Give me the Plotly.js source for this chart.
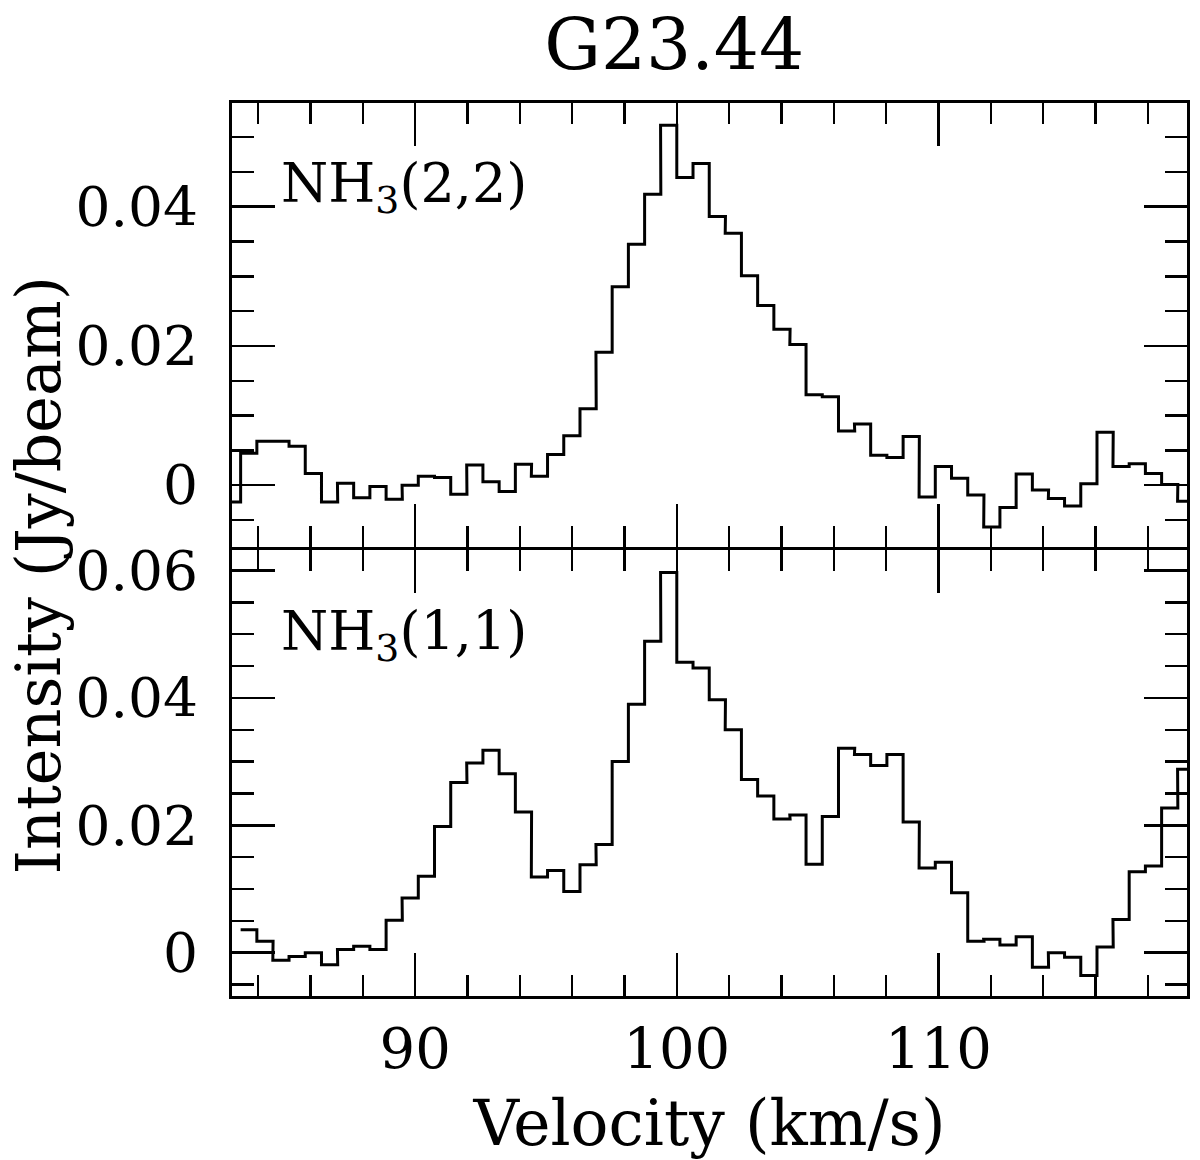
<!DOCTYPE html>
<html>
<head>
<meta charset="utf-8">
<script src="https://cdn.plot.ly/plotly-3.0.1.min.js"></script>
<style>html,body{margin:0;padding:0;background:#fff;}#chart{width:1200px;height:1160px;}</style>
</head>
<body>
<div id="chart"></div>
<script>
// Channel centre velocities (km/s)
const velocity = [83.02, 83.64, 84.26, 84.87, 85.49, 86.11, 86.73, 87.34, 87.96, 88.58,
  89.20, 89.81, 90.43, 91.05, 91.67, 92.28, 92.90, 93.52, 94.14, 94.75,
  95.37, 95.99, 96.61, 97.22, 97.84, 98.46, 99.08, 99.69, 100.31, 100.93,
  101.55, 102.16, 102.78, 103.40, 104.02, 104.63, 105.25, 105.87, 106.49, 107.10,
  107.72, 108.34, 108.96, 109.57, 110.19, 110.81, 111.43, 112.04, 112.66, 113.28,
  113.90, 114.51, 115.13, 115.75, 116.37, 116.98, 117.60, 118.22, 118.84, 119.45];

// NH3(2,2) intensity (Jy/beam)
const nh3_22 = [-0.0024, 0.0046, 0.0063, 0.0063, 0.0056, 0.0017, -0.0024, 0.0003, -0.0018, -0.0002,
  -0.0020, 0.0000, 0.0013, 0.0011, -0.0013, 0.0029, 0.0005, -0.0009, 0.0030, 0.0013,
  0.0044, 0.0071, 0.0110, 0.0191, 0.0285, 0.0346, 0.0418, 0.0517, 0.0442, 0.0462,
  0.0386, 0.0362, 0.0301, 0.0258, 0.0224, 0.0202, 0.0130, 0.0127, 0.0078, 0.0088,
  0.0043, 0.0040, 0.0070, -0.0017, 0.0027, 0.0010, -0.0014, -0.0060, -0.0032, 0.0016,
  -0.0007, -0.0019, -0.0030, 0.0002, 0.0076, 0.0027, 0.0031, 0.0017, 0.0001, -0.0023];

// NH3(1,1) intensity (Jy/beam)
const nh3_11 = [null, 0.0036, 0.0018, -0.0012, -0.0006, 0.0000, -0.0019, 0.0005, 0.0010, 0.0005,
  0.0051, 0.0086, 0.0120, 0.0198, 0.0267, 0.0298, 0.0318, 0.0281, 0.0221, 0.0119,
  0.0129, 0.0096, 0.0138, 0.0170, 0.0300, 0.0390, 0.0489, 0.0597, 0.0456, 0.0447,
  0.0397, 0.0350, 0.0272, 0.0246, 0.0210, 0.0216, 0.0139, 0.0214, 0.0321, 0.0311,
  0.0294, 0.0311, 0.0205, 0.0133, 0.0142, 0.0094, 0.0018, 0.0021, 0.0012, 0.0025,
  -0.0023, 0.0000, -0.0007, -0.0036, 0.0009, 0.0052, 0.0127, 0.0136, 0.0227, 0.0288];

const xTickLabels = ['90', '100', '110'];
const titleText = 'G23.44';
const panelLabels = ['NH<sub>3</sub>(2,2)', 'NH<sub>3</sub>(1,1)'];

// Build histogram-style steps from channel centres (each channel spans +/- half a channel width)
function steps(xc, yv) {
  const dv = xc[1] - xc[0];
  const xs = [], ys = [];
  for (let i = 0; i < xc.length; i++) {
    if (yv[i] === null) { xs.push(null); ys.push(null); continue; }
    xs.push(xc[i] - dv / 2, xc[i] + dv / 2);
    ys.push(yv[i], yv[i]);
  }
  return {xs, ys};
}

const s22 = steps(velocity, nh3_22);
const s11 = steps(velocity, nh3_11);

const FONT = 'DejaVu Serif, Liberation Serif, serif';
const lineStyle = {color: '#000', width: 3, shape: 'linear'};

const traces = [
  {x: s22.xs, y: s22.ys, xaxis: 'x', yaxis: 'y', mode: 'lines', line: lineStyle, connectgaps: false, hoverinfo: 'skip', name: 'NH3(2,2)'},
  {x: s11.xs, y: s11.ys, xaxis: 'x2', yaxis: 'y2', mode: 'lines', line: lineStyle, connectgaps: false, hoverinfo: 'skip', name: 'NH3(1,1)'}
];

const plotH = 893;
const split = (996 - 548) / plotH;
const half = 1.5 / plotH;
const xRange = [83.0, 119.5];

const xCommon = {
  range: xRange, showgrid: false, zeroline: false,
  showline: true, linecolor: '#000', linewidth: 3, mirror: 'ticks',
  ticks: 'inside', ticklen: 43, tickwidth: 2.5, tickcolor: '#000',
  tickmode: 'array', tickvals: xTickLabels.map(Number), ticktext: xTickLabels,
  minor: {dtick: 2, tick0: 0, ticks: 'inside', ticklen: 21, tickwidth: 2.5, tickcolor: '#000', showgrid: false},
  tickfont: {family: FONT, size: 56, color: '#000'}
};
const yCommon = {
  showgrid: false, zeroline: false,
  showline: true, linecolor: '#000', linewidth: 3, mirror: 'ticks',
  ticks: 'inside', ticklen: 43, tickwidth: 2.5, tickcolor: '#000',
  dtick: 0.02, tick0: 0,
  minor: {dtick: 0.005, tick0: 0, ticks: 'inside', ticklen: 22, tickwidth: 2.5, tickcolor: '#000', showgrid: false},
  tickfont: {family: FONT, size: 55, color: '#000'},
  ticklabelstandoff: 20
};

const layout = {
  width: 1200, height: 1160,
  margin: {l: 232, r: 13, t: 103, b: 164},
  paper_bgcolor: '#fff', plot_bgcolor: '#fff',
  showlegend: false,
  font: {family: FONT, color: '#000'},
  title: {text: titleText, font: {family: FONT, size: 71, color: '#000'},
          xref: 'paper', x: 0.463, xanchor: 'center', yref: 'container', y: 0.962, yanchor: 'middle'},
  xaxis: Object.assign({}, xCommon, {domain: [0, 1], anchor: 'y', showticklabels: false}),
  xaxis2: Object.assign({}, xCommon, {domain: [0, 1], anchor: 'y2', matches: 'x', showticklabels: true,
          ticklabelstandoff: 2,
          title: {text: 'Velocity (km/s)', font: {family: FONT, size: 63, color: '#000'}, standoff: 26}}),
  yaxis: Object.assign({}, yCommon, {domain: [split + half, 1], anchor: 'x', range: [-0.0088, 0.0549]}),
  yaxis2: Object.assign({}, yCommon, {domain: [0, split - half], anchor: 'x2', range: [-0.0068, 0.0633]}),
  annotations: [
    {text: 'Intensity (Jy/beam)', textangle: -90, xref: 'paper', yref: 'paper',
     x: -0.203, y: 0.471, xanchor: 'center', yanchor: 'middle', showarrow: false,
     font: {family: FONT, size: 62, color: '#000'}},
    {text: panelLabels[0], xref: 'x', yref: 'y', x: 84.78, y: 0.0428, xanchor: 'left', yanchor: 'middle',
     showarrow: false, font: {family: FONT, size: 54, color: '#000'}},
    {text: panelLabels[1], xref: 'x2', yref: 'y2', x: 84.78, y: 0.0499, xanchor: 'left', yanchor: 'middle',
     showarrow: false, font: {family: FONT, size: 54, color: '#000'}}
  ]
};

Plotly.newPlot('chart', traces, layout, {staticPlot: true, displayModeBar: false});
</script>
</body>
</html>
